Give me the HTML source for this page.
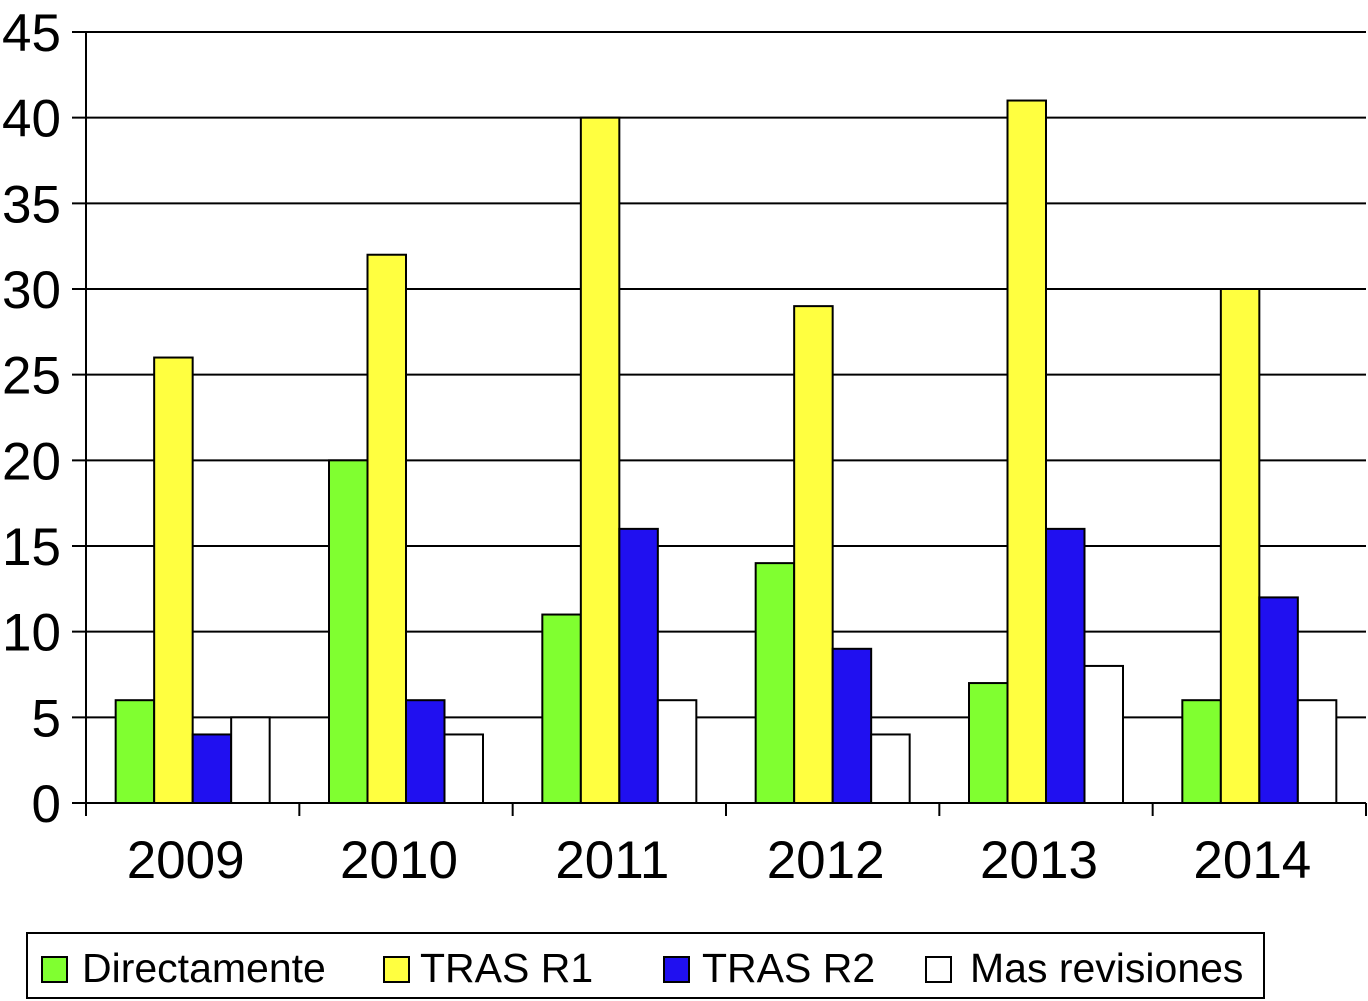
<!DOCTYPE html>
<html><head><meta charset="utf-8"><style>
html,body{margin:0;padding:0;background:#fff;}
svg{display:block;font-family:"Liberation Sans",Arial,sans-serif;}
</style></head><body>
<svg id="chart" width="1368" height="1001" viewBox="0 0 1368 1001" xmlns="http://www.w3.org/2000/svg">
<g id="grid"></g>
<g id="bars"></g>
<g id="axes"></g>
<g id="legend"></g>
</svg>
<script>
const categories = ["2009","2010","2011","2012","2013","2014"];
const seriesNames = ["Directamente","TRAS R1","TRAS R2","Mas revisiones"];
const directamente = [6,20,11,14,7,6];
const trasR1 = [26,32,40,29,41,30];
const trasR2 = [4,6,16,9,16,12];
const masRevisiones = [5,4,6,4,8,6];
const yTicks = [0,5,10,15,20,25,30,35,40,45];

const series = [directamente, trasR1, trasR2, masRevisiones];
const colors = ["#80ff30","#ffff40","#2010f0","#ffffff"];
const NS = "http://www.w3.org/2000/svg";
const L = 86, R = 1366, T = 32, B = 803, yMax = 45;
const groupW = (R - L) / categories.length;
const barW = 38.5;
const y = v => B - (v / yMax) * (B - T);
const xg = i => L + i * groupW;
function mk(tag, attrs, parent){const e=document.createElementNS(NS,tag);for(const k in attrs)e.setAttribute(k,attrs[k]);parent.appendChild(e);return e;}
const grid = document.getElementById('grid'), bars = document.getElementById('bars'), axes = document.getElementById('axes'), legend = document.getElementById('legend');

yTicks.forEach(t => {
  const ln = mk('line',{x1:L-14,x2:R,y1:y(t),y2:y(t),stroke:'#000','stroke-width':2},grid);
  
  
  const tx = mk('text',{x:L-25,y:y(t)+19,'text-anchor':'end','font-size':53},axes);
  tx.textContent = t;
  
  
});

categories.forEach((c,i) => {
  const start = xg(i) + (groupW - 4*barW)/2;
  series.forEach((s,k) => {
    const v = s[i];
    const r = mk('rect',{x:start+k*barW,y:y(v),width:barW,height:B-y(v),fill:colors[k],stroke:'#000','stroke-width':2},bars);
    
    
  });
  const tx = mk('text',{x:xg(i)+groupW/2-7,y:878,'text-anchor':'middle','font-size':53},axes);
  tx.textContent = c;
  
  
});
for(let i=0;i<=categories.length;i++){
  const tk = mk('line',{x1:xg(i),x2:xg(i),y1:B,y2:B+13,stroke:'#000','stroke-width':2},axes);
  
  
}
const ya = mk('line',{x1:L,x2:L,y1:T,y2:B,stroke:'#000','stroke-width':2},axes);


const xa = mk('line',{x1:L,x2:R,y1:B,y2:B,stroke:'#000','stroke-width':2},axes);



const lb = mk('rect',{x:27,y:933,width:1237,height:65,fill:'#fff',stroke:'#000','stroke-width':2},legend);


const lx = [42,384,664,926];
const tx0 = [82,420,702,970];
seriesNames.forEach((n,k) => {
  const g = mk('g',{},legend);
  
  
  mk('rect',{x:lx[k],y:957,width:25,height:25,fill:colors[k],stroke:'#000','stroke-width':2},g);
  const t = mk('text',{x:tx0[k],y:982,'font-size':41},g);
  t.textContent = n;
});
</script>
</body></html>
